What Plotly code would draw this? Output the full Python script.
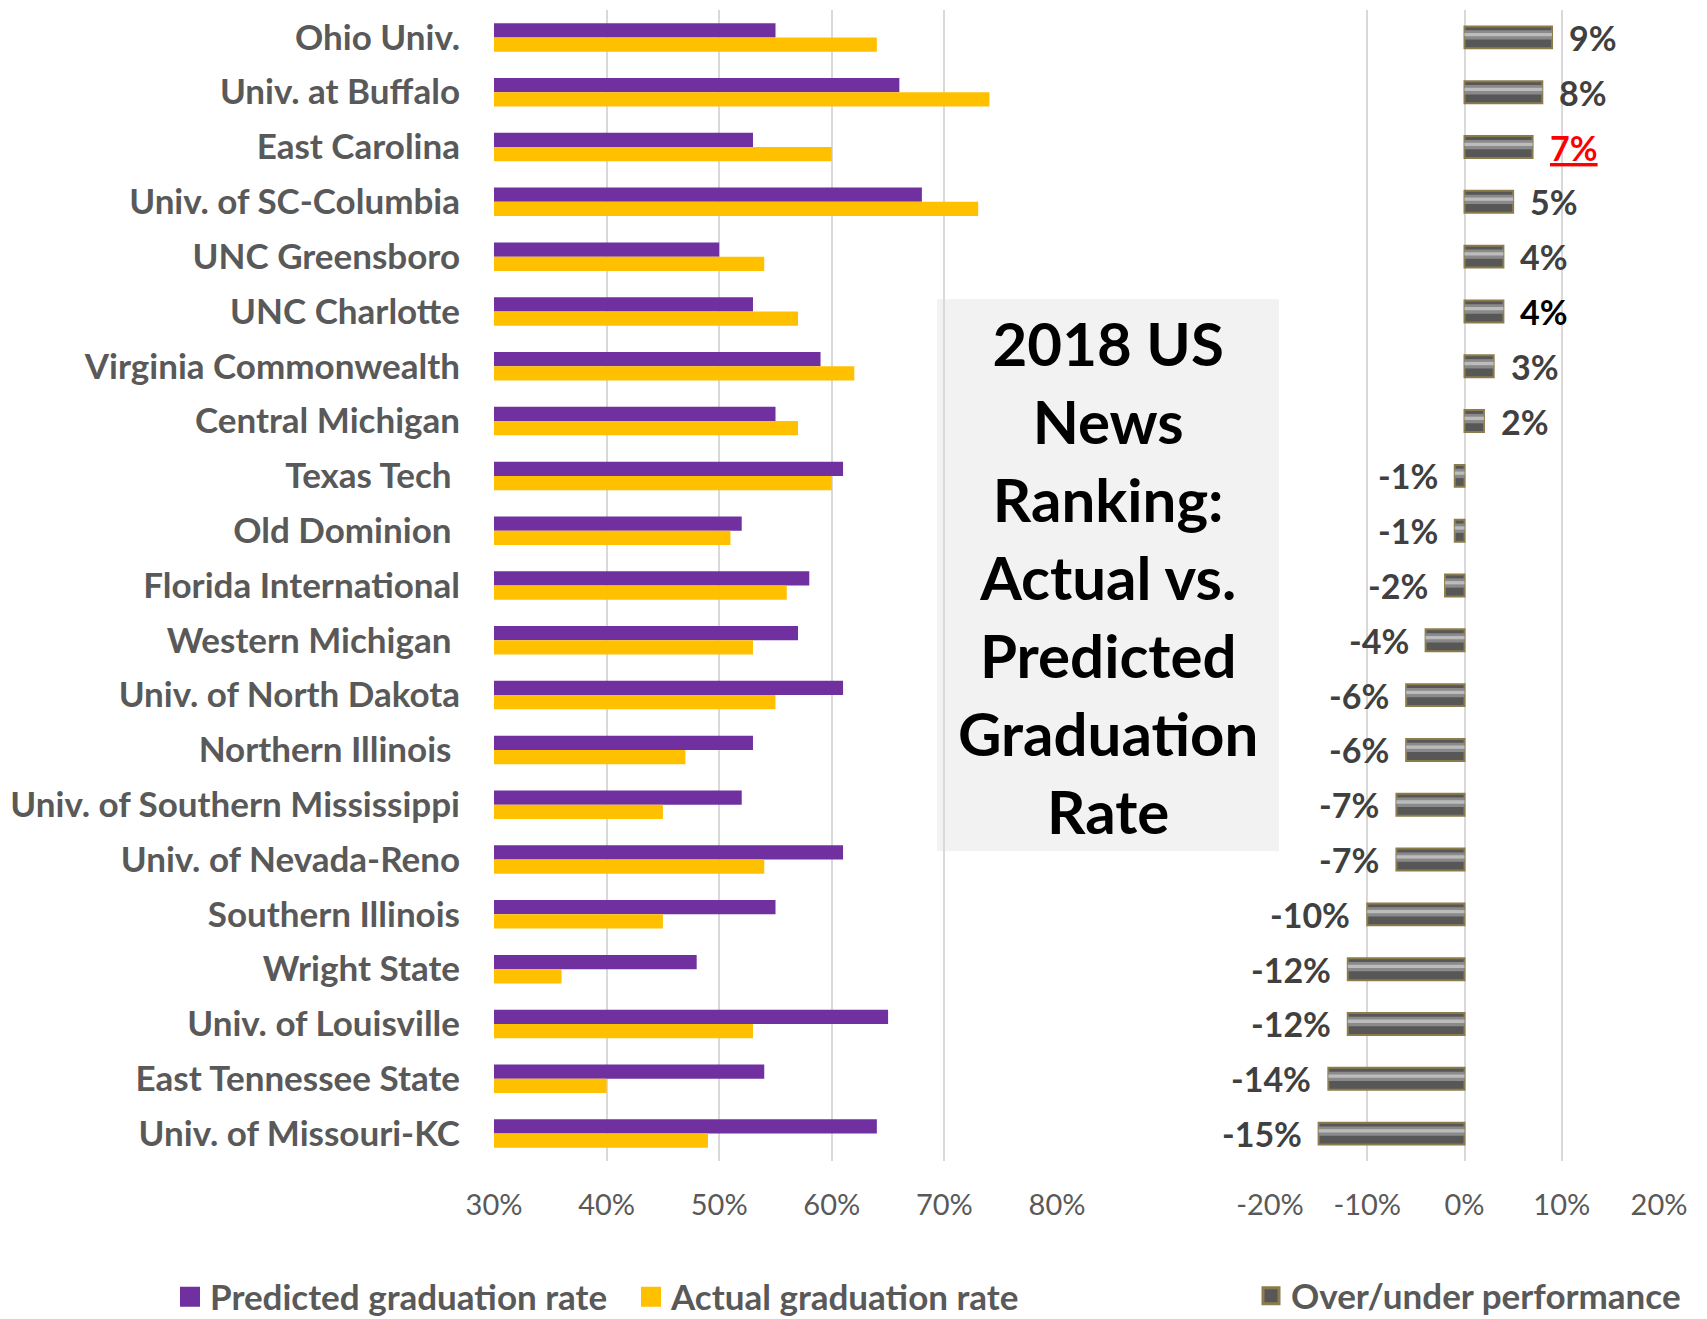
import plotly.graph_objects as go

# ---------------- data ----------------
universities = [
    "Ohio Univ.", "Univ. at Buffalo", "East Carolina", "Univ. of SC-Columbia",
    "UNC Greensboro", "UNC Charlotte", "Virginia Commonwealth", "Central Michigan",
    "Texas Tech\u00a0", "Old Dominion\u00a0", "Florida International",
    "Western Michigan\u00a0", "Univ. of North Dakota", "Northern Illinois\u00a0",
    "Univ. of Southern Mississippi", "Univ. of Nevada-Reno", "Southern Illinois",
    "Wright State", "Univ. of Louisville", "East Tennessee State",
    "Univ. of Missouri-KC",
]
predicted = [55, 66, 53, 68, 50, 53, 59, 55, 61, 52, 58, 57, 61, 53, 52, 61, 55, 48, 65, 54, 64]
actual = [64, 74, 60, 73, 54, 57, 62, 57, 60, 51, 56, 53, 55, 47, 45, 54, 45, 36, 53, 40, 49]
over_under = [9, 8, 7, 5, 4, 4, 3, 2, -1, -1, -2, -4, -6, -6, -7, -7, -10, -12, -12, -14, -15]

left_tickvals = [30, 40, 50, 60, 70, 80]
left_ticktext = ["30%", "40%", "50%", "60%", "70%", "80%"]
right_tickvals = [-20, -10, 0, 10, 20]
right_ticktext = ["-20%", "-10%", "0%", "10%", "20%"]

series_names = ["Predicted graduation rate", "Actual graduation rate", "Over/under performance"]
title_lines = ["2018 US", "News", "Ranking:", "Actual vs.", "Predicted", "Graduation", "Rate"]

# ---------------- style ----------------
W, H = 1707, 1319
FONT = "Lato"
GRAY = "#595959"
GRID = "#d9d9d9"
PURPLE = "#7030A0"
GOLD = "#FFC000"
BAR_DARK = "#575757"
BAR_EDGE = "#8b7d4b"

def px_x(p):
    return p / W

def px_y(p):
    return 1 - p / H

left_dom = [px_x(494), px_x(1057)]
right_dom = [px_x(1270), px_x(1659)]
y_dom = [px_y(1161), px_y(10)]

fig = go.Figure()

fig.add_trace(go.Bar(
    y=universities, x=predicted, orientation="h", name=series_names[0],
    marker=dict(color=PURPLE, line=dict(width=0)), xaxis="x", yaxis="y", showlegend=False,
))
fig.add_trace(go.Bar(
    y=universities, x=actual, orientation="h", name=series_names[1],
    marker=dict(color=GOLD, line=dict(width=0)), xaxis="x", yaxis="y", showlegend=False,
))
fig.add_trace(go.Bar(
    y=universities, x=over_under, orientation="h", name=series_names[2],
    marker=dict(color=BAR_DARK, line=dict(color=BAR_EDGE, width=2)),
    width=0.4, offset=-0.2, xaxis="x2", yaxis="y", showlegend=False,
))
# bevel shading stripes on the over/under bars
fig.add_trace(go.Bar(
    y=universities, x=over_under, orientation="h", showlegend=False,
    marker=dict(color="#8a8a8a", line=dict(width=0)), hoverinfo="skip",
    width=0.17, offset=-0.13, xaxis="x2", yaxis="y",
))
fig.add_trace(go.Bar(
    y=universities, x=over_under, orientation="h", showlegend=False,
    marker=dict(color="#bcbcbc", line=dict(width=0)), hoverinfo="skip",
    width=0.06, offset=-0.08, xaxis="x2", yaxis="y",
))

# legend entries (square swatches)
legend_defs = [
    (series_names[0], dict(color=PURPLE, line=dict(color=PURPLE, width=4)), "legend"),
    (series_names[1], dict(color=GOLD, line=dict(color=GOLD, width=4)), "legend3"),
    (series_names[2], dict(color=BAR_DARK, line=dict(color=BAR_EDGE, width=3)), "legend2"),
]
for name, mk, lg in legend_defs:
    fig.add_trace(go.Scatter(
        x=[None], y=[None], mode="markers", name=name,
        marker=dict(symbol="square", size=16, **mk),
        xaxis="x", yaxis="y", legend=lg, showlegend=True,
    ))

# data labels for over/under
special = {"East Carolina": ("#ff0000", True), "UNC Charlotte": ("#000000", False)}
for u, v in zip(universities, over_under):
    color, underline = special.get(u, ("#404040", False))
    txt = f"{v}%"
    if underline:
        txt = f"<u>{txt}</u>"
    fig.add_annotation(
        x=v, y=u, xref="x2", yref="y", text=txt, showarrow=False,
        xanchor="left" if v > 0 else "right", xshift=15 if v > 0 else -15,
        font=dict(family=FONT, size=34, color=color, weight="bold"),
    )

# title box
fig.add_shape(type="rect", xref="paper", yref="paper",
              x0=px_x(937), x1=px_x(1279), y0=px_y(851), y1=px_y(299),
              fillcolor="#f2f2f2", line=dict(width=0), layer="below")
fig.add_annotation(
    xref="paper", yref="paper", x=px_x(1108), y=px_y(577),
    text="<br>".join(title_lines), showarrow=False, align="center",
    xanchor="center", yanchor="middle",
    font=dict(family=FONT, size=60, color="#000000", weight="bold"),
)

axis_common = dict(showgrid=True, gridcolor=GRID, gridwidth=2, zeroline=False,
                   showline=False, ticks="", automargin=False,
                   tickfont=dict(family=FONT, size=29, color=GRAY),
                   ticklabelstandoff=24)

legend_font = dict(family=FONT, size=35, color=GRAY, weight="bold")
legend_common = dict(orientation="h", xanchor="left", yanchor="middle",
                     bgcolor="rgba(0,0,0,0)", font=legend_font, borderwidth=0)

fig.update_layout(
    width=W, height=H,
    margin=dict(l=0, r=0, t=0, b=0, pad=0, autoexpand=False),
    paper_bgcolor="white", plot_bgcolor="rgba(0,0,0,0)",
    barmode="group", bargap=0.48, bargroupgap=0,
    xaxis=dict(domain=left_dom, range=[30, 80], tickvals=left_tickvals,
               ticktext=left_ticktext, anchor="y", **axis_common),
    xaxis2=dict(domain=right_dom, range=[-20, 20], tickvals=right_tickvals,
                ticktext=right_ticktext, anchor="y", **axis_common),
    yaxis=dict(domain=y_dom, type="category", autorange="reversed",
               showgrid=False, zeroline=False, showline=False, ticks="",
               automargin=False, anchor="x",
               tickfont=dict(family=FONT, size=35, color=GRAY, weight="bold"),
               ticklabelstandoff=33),
    legend=dict(x=px_x(170), y=px_y(1297), **legend_common),
    legend3=dict(x=px_x(631), y=px_y(1297), **legend_common),
    legend2=dict(x=px_x(1251), y=px_y(1296), **legend_common),
    hovermode=False,
)

fig.write_html("out.html")
